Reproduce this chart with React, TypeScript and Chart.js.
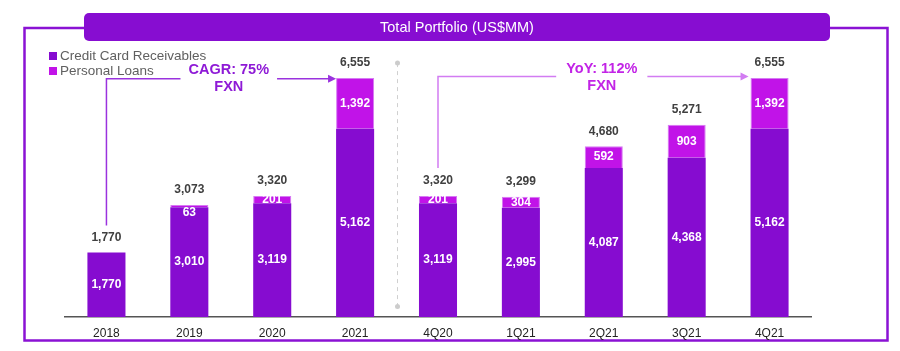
import React, { useEffect, useRef } from "react";
import { Chart, registerables } from "chart.js";

Chart.register(...registerables);

const categories = ["2018", "2019", "2020", "2021", "4Q20", "1Q21", "2Q21", "3Q21", "4Q21"];
const creditCard = [1770, 3010, 3119, 5162, 3119, 2995, 4087, 4368, 5162];
const personalLoans: (number | null)[] = [null, 63, 201, 1392, 201, 304, 592, 903, 1392];
const totals = [1770, 3073, 3320, 6555, 3320, 3299, 4680, 5271, 6555];
const seriesNames = ["Credit Card Receivables", "Personal Loans"];
const titleText = "Total Portfolio (US$MM)";
const cagrLines = ["CAGR: 75%", "FXN"];
const yoyLines = ["YoY: 112%", "FXN"];

const FONT = "'Liberation Sans', Arial, Helvetica, sans-serif";
const CCR = "#860cd0";
const PL = "#c113e8";
const PL_BORDER = "#d67af3";
const FRAME = "#8a12d4";
const BANNER = "#870dd1";
const CAGR_COLOR = "#8e1ad6";
const CAGR_LINE = "#9a32de";
const YOY_COLOR = "#c224e6";
const YOY_LINE = "#d27cf2";

const fmt = (v: number) => v.toLocaleString("en-US");

function arrowLine(ctx: CanvasRenderingContext2D, pts: [number, number][], gapCenter: number, gapHalf: number, color: string) {
  const [start, corner, tip] = pts;
  ctx.save();
  ctx.strokeStyle = color;
  ctx.fillStyle = color;
  ctx.lineWidth = 1.5;
  ctx.beginPath();
  ctx.moveTo(start[0], start[1]);
  ctx.lineTo(corner[0], corner[1]);
  ctx.lineTo(gapCenter - gapHalf, corner[1]);
  ctx.moveTo(gapCenter + gapHalf, corner[1]);
  ctx.lineTo(tip[0] - 7, tip[1]);
  ctx.stroke();
  ctx.beginPath();
  ctx.moveTo(tip[0], tip[1]);
  ctx.lineTo(tip[0] - 8, tip[1] - 4);
  ctx.lineTo(tip[0] - 8, tip[1] + 4);
  ctx.closePath();
  ctx.fill();
  ctx.restore();
}

const decorPlugin = {
  id: "decor",
  beforeDraw(chart: any) {
    const ctx: CanvasRenderingContext2D = chart.ctx;
    ctx.save();
    ctx.fillStyle = "#ffffff";
    ctx.fillRect(0, 0, chart.width, chart.height);
    ctx.strokeStyle = FRAME;
    ctx.lineWidth = 2.5;
    ctx.strokeRect(24.5, 28, 863, 312.5);
    ctx.fillStyle = BANNER;
    ctx.beginPath();
    (ctx as any).roundRect(84, 13, 746, 28, 5);
    ctx.fill();
    ctx.fillStyle = "#ffffff";
    ctx.font = `14.5px ${FONT}`;
    ctx.textAlign = "center";
    ctx.textBaseline = "middle";
    ctx.fillText(titleText, 457, 28);
    const legendColors = [CCR, PL];
    ctx.textAlign = "left";
    ctx.font = `13.5px ${FONT}`;
    seriesNames.forEach((name, i) => {
      const y = 56 + i * 15;
      ctx.fillStyle = legendColors[i];
      ctx.fillRect(49, y - 4, 8, 8);
      ctx.fillStyle = "#606060";
      ctx.fillText(name, 60, y + 0.5);
    });
    ctx.restore();
  },
  afterDatasetsDraw(chart: any) {
    const ctx: CanvasRenderingContext2D = chart.ctx;
    const yScale = chart.scales.y;
    const m0 = chart.getDatasetMeta(0);
    const m1 = chart.getDatasetMeta(1);
    const area = chart.chartArea;
    ctx.save();
    ctx.textAlign = "center";
    ctx.textBaseline = "middle";
    ctx.font = `bold 12px ${FONT}`;
    ctx.fillStyle = "#ffffff";
    categories.forEach((_, i) => {
      const e0 = m0.data[i];
      ctx.fillText(fmt(creditCard[i]), e0.x, (e0.y + e0.base) / 2);
      const v = personalLoans[i];
      if (v != null) {
        const e1 = m1.data[i];
        const h = e1.base - e1.y;
        const cy = h < 5 ? e1.y + 8 : (e1.y + e1.base) / 2;
        ctx.fillText(fmt(v), e1.x, cy);
      }
    });
    ctx.fillStyle = "#404040";
    const tops: number[] = [];
    categories.forEach((_, i) => {
      const top = yScale.getPixelForValue(totals[i]);
      tops.push(top);
      ctx.fillText(fmt(totals[i]), m0.data[i].x, top - 15);
    });
    ctx.restore();

    const xs = m0.data.map((e: any) => e.x);
    const w = m0.data[0].width;

    const sx = Math.round((xs[3] + xs[4]) / 2) + 0.5;
    const sTop = area.top + 1.5;
    const sBot = area.bottom - 10.5;
    ctx.save();
    ctx.strokeStyle = "#d0d0d0";
    ctx.lineWidth = 1;
    ctx.setLineDash([4, 4]);
    ctx.beginPath();
    ctx.moveTo(sx, sTop);
    ctx.lineTo(sx, sBot);
    ctx.stroke();
    ctx.setLineDash([]);
    ctx.fillStyle = "#cccccc";
    ctx.beginPath();
    ctx.arc(sx, sTop, 2.5, 0, Math.PI * 2);
    ctx.fill();
    ctx.beginPath();
    ctx.arc(sx, sBot, 2.5, 0, Math.PI * 2);
    ctx.fill();
    ctx.restore();

    ctx.save();
    ctx.font = `bold 14.5px ${FONT}`;
    const cagrY = tops[3] + 1;
    const cagrCx = (xs[0] + xs[3]) / 2 - 2;
    const cagrHalf = ctx.measureText(cagrLines[0]).width / 2 + 8;
    arrowLine(ctx, [[xs[0], tops[0] - 27], [xs[0], cagrY], [xs[3] - w / 2, cagrY]], cagrCx, cagrHalf, CAGR_LINE);
    ctx.fillStyle = CAGR_COLOR;
    ctx.textAlign = "center";
    ctx.textBaseline = "middle";
    ctx.fillText(cagrLines[0], cagrCx, cagrY - 8.5);
    ctx.fillText(cagrLines[1], cagrCx, cagrY + 8);

    const yoyY = tops[8] - 1.3;
    const yoyCx = (xs[4] + xs[8]) / 2 - 2;
    const yoyHalf = ctx.measureText(yoyLines[0]).width / 2 + 10;
    arrowLine(ctx, [[xs[4], tops[4] - 28], [xs[4], yoyY], [xs[8] - w / 2 - 2, yoyY]], yoyCx, yoyHalf, YOY_LINE);
    ctx.fillStyle = YOY_COLOR;
    ctx.fillText(yoyLines[0], yoyCx, yoyY - 8);
    ctx.fillText(yoyLines[1], yoyCx, yoyY + 9.5);
    ctx.restore();
  },
};

export default function App() {
  const ref = useRef<HTMLCanvasElement | null>(null);
  useEffect(() => {
    if (!ref.current) return;
    const chart = new Chart(ref.current, {
      type: "bar",
      data: {
        labels: categories,
        datasets: [
          {
            label: seriesNames[0],
            data: creditCard,
            backgroundColor: CCR,
            borderWidth: 0,
            barPercentage: 0.9,
            categoryPercentage: 0.51,
          },
          {
            label: seriesNames[1],
            data: personalLoans as any,
            backgroundColor: PL,
            borderColor: PL_BORDER,
            borderWidth: 1,
            barPercentage: 0.9,
            categoryPercentage: 0.51,
          },
        ],
      },
      options: {
        responsive: false,
        devicePixelRatio: 1,
        animation: false,
        layout: { padding: { left: 65, right: 89, top: 61.6, bottom: 1.5 } },
        plugins: {
          legend: { display: false },
          tooltip: { enabled: false },
          title: { display: false },
        },
        scales: {
          x: {
            stacked: true,
            grid: { display: false, drawTicks: false },
            border: { display: true, color: "#555555", width: 1.5 },
            ticks: { color: "#222222", font: { family: FONT, size: 12 }, padding: 9 },
          },
          y: {
            stacked: true,
            display: false,
            min: 0,
            max: 7000,
          },
        },
      },
      plugins: [decorPlugin],
    });
    return () => chart.destroy();
  }, []);
  return (
    <div style={{ position: "fixed", left: 0, top: 0, width: 900, height: 351 }}>
      <canvas ref={ref} width={900} height={351} style={{ display: "block" }} />
    </div>
  );
}
